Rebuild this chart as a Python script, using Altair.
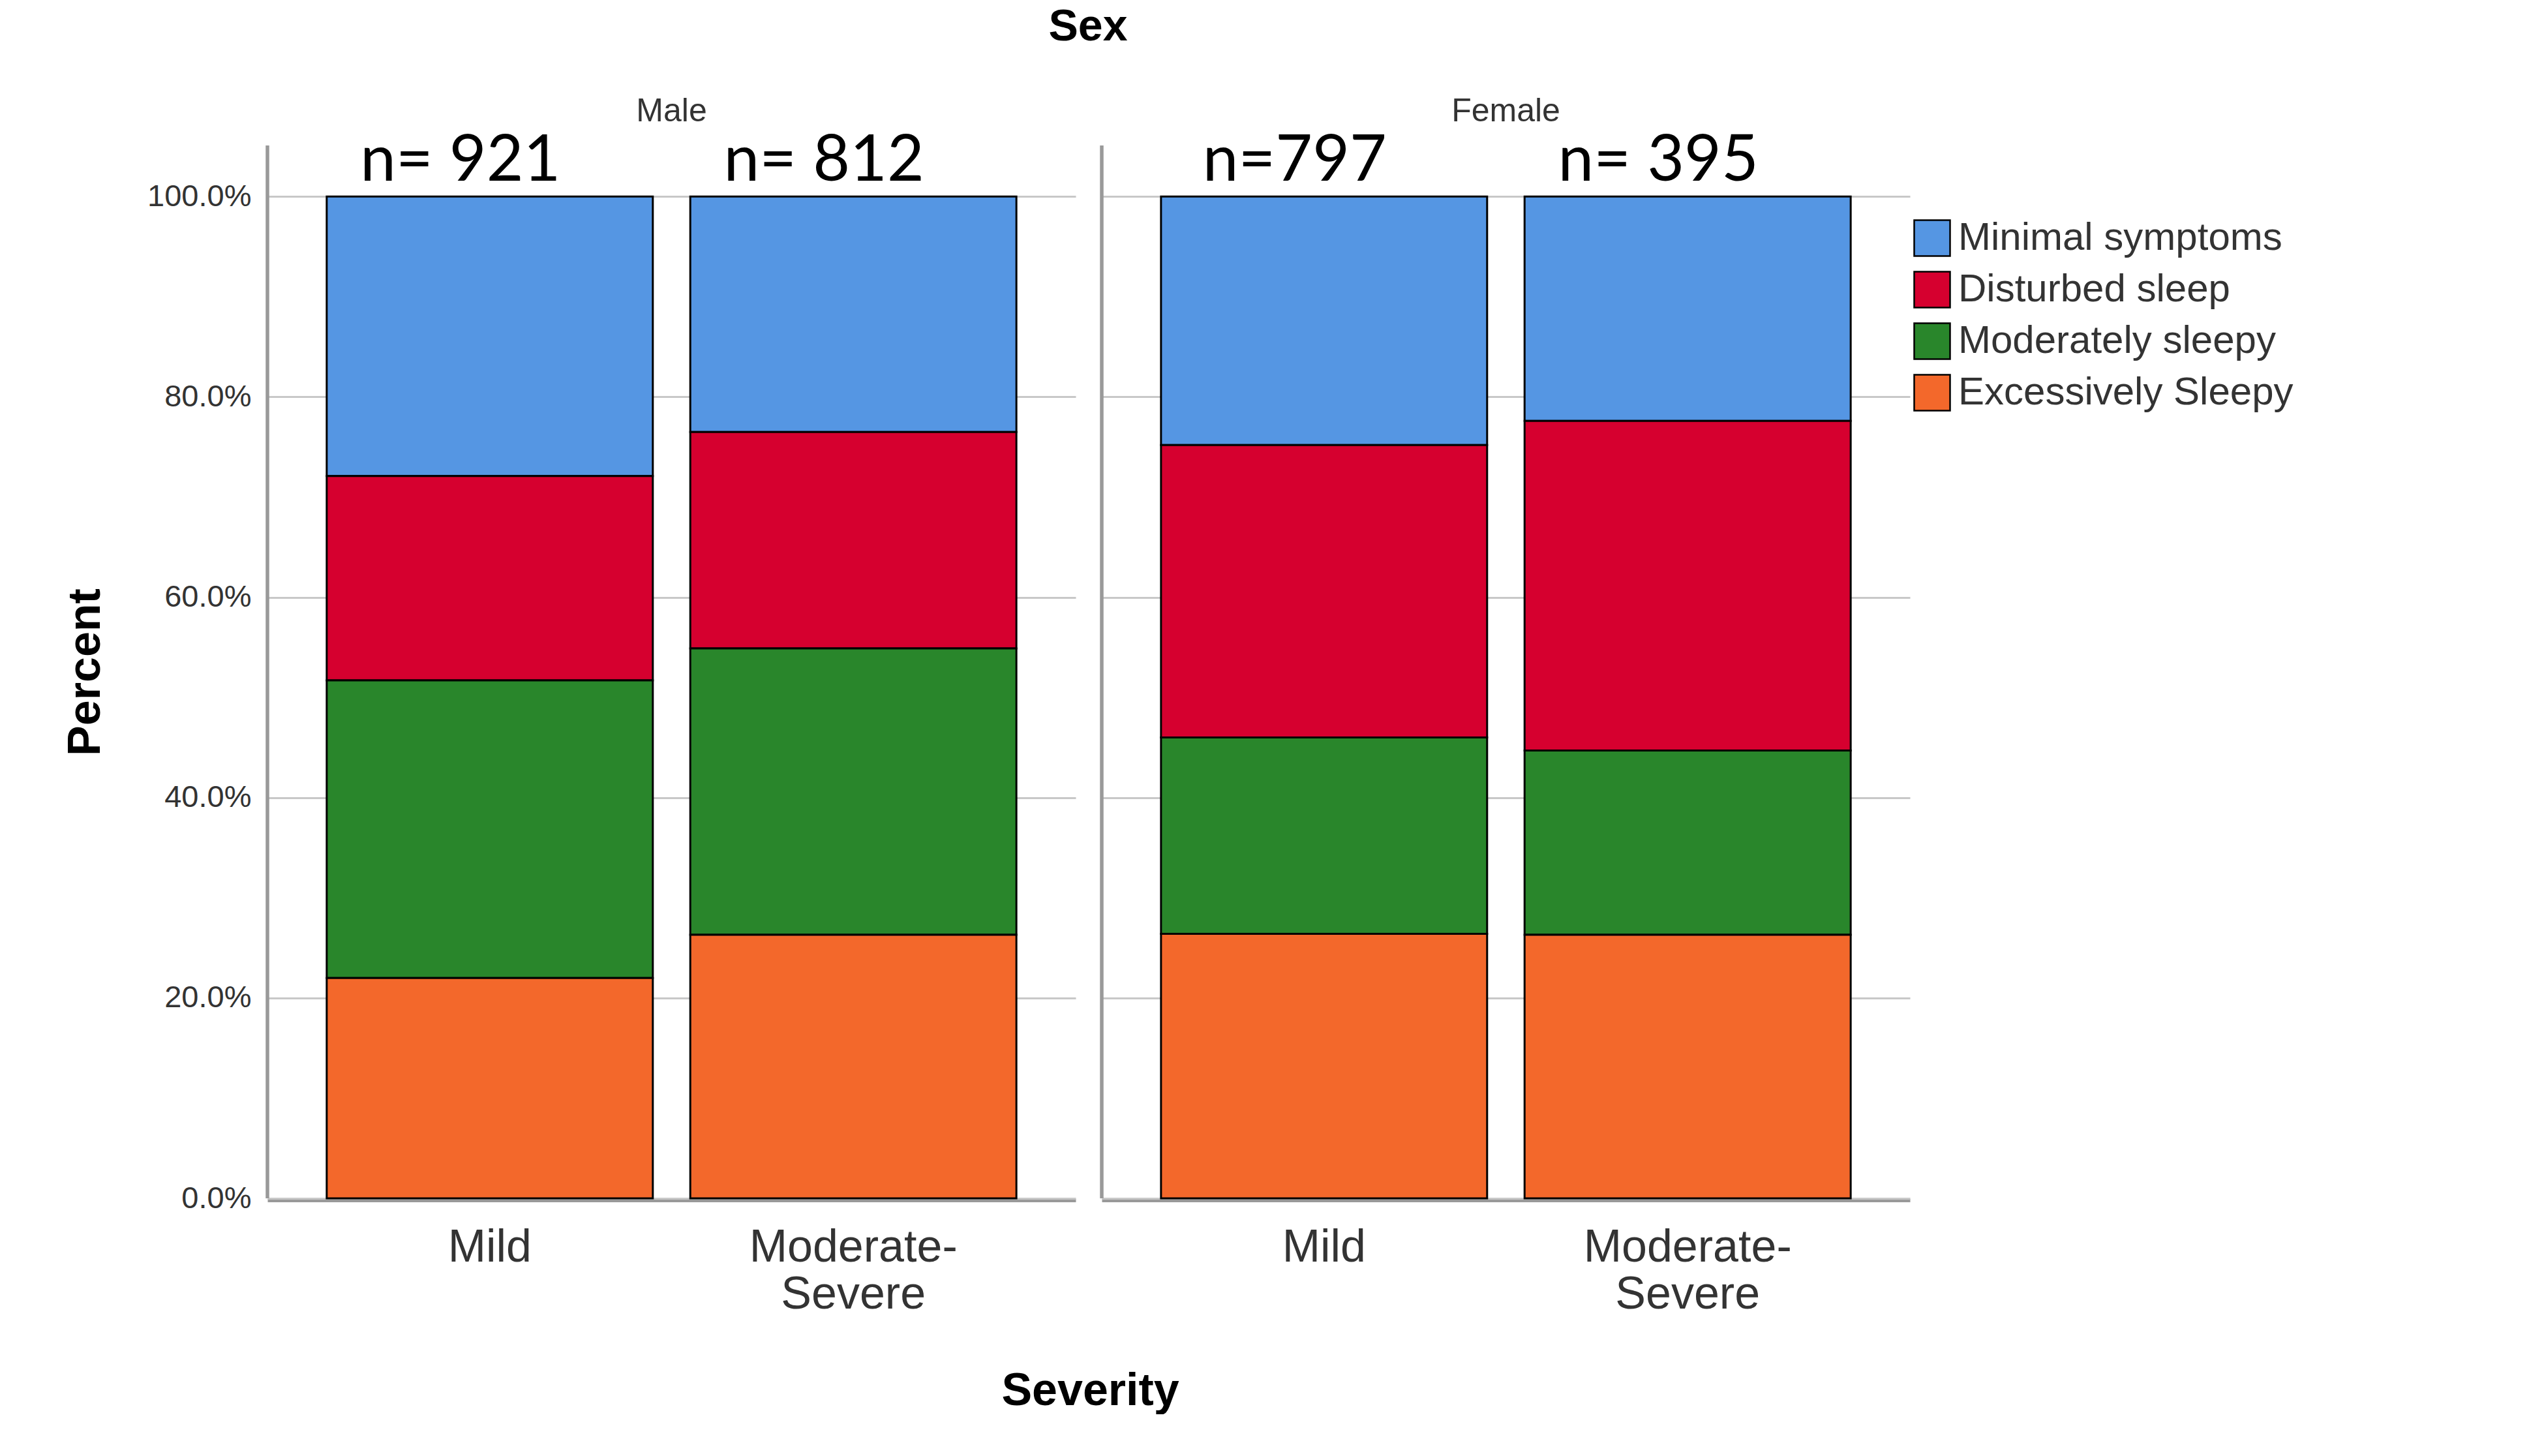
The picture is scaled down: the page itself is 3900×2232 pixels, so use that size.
import altair as alt
import pandas as pd

# ---- data ----
sexes = ["Male", "Male", "Female", "Female"]
severities = ["Mild", "Moderate-Severe", "Mild", "Moderate-Severe"]
n_labels = ["n= 921", "n= 812", "n=797", "n= 395"]

categories = ["Minimal symptoms", "Disturbed sleep", "Moderately sleepy", "Excessively Sleepy"]
minimal = [27.9, 23.5, 24.8, 22.4]
disturbed = [20.4, 21.6, 29.2, 32.9]
moderate = [29.7, 28.6, 19.6, 18.4]
excessive = [22.0, 26.3, 26.4, 26.3]
colors = ["#5596e3", "#d6002f", "#29862b", "#f3682b"]

series = [minimal, disturbed, moderate, excessive]
stack_order = {"Excessively Sleepy": 0, "Moderately sleepy": 1, "Disturbed sleep": 2, "Minimal symptoms": 3}

rows = []
for ci, cat in enumerate(categories):
    for i in range(len(sexes)):
        rows.append({
            "Sex": sexes[i],
            "Severity": severities[i],
            "Category": cat,
            "Percent": series[ci][i],
            "ord": stack_order[cat],
            "nlab": n_labels[i],
            "ypos": 101.6,
        })
df = pd.DataFrame(rows)

W = 1239
H = 1614
YMAX = 105.1
FONT = "Liberation Sans"

x_enc = alt.X(
    "Severity:N",
    sort=["Mild", "Moderate-Severe"],
    scale=alt.Scale(paddingInner=0.103, paddingOuter=0.163),
    title=None,
    axis=alt.Axis(
        labelFontSize=70,
        labelFont=FONT,
        labelColor="#333333",
        labelAngle=0,
        labelPadding=38,
        labelLineHeight=72,
        labelBaseline="top",
        labelLimit=0,
        ticks=False,
        domainColor="#999999",
        domainWidth=5,
        labelExpr="datum.label == 'Moderate-Severe' ? ['Moderate-', 'Severe'] : datum.label",
    ),
)

y_scale = alt.Scale(domain=[0, YMAX], nice=False, zero=True)

bars = alt.Chart().mark_bar(stroke="black", strokeWidth=3).encode(
    x=x_enc,
    y=alt.Y(
        "Percent:Q",
        stack="zero",
        scale=y_scale,
        title="Percent",
        axis=alt.Axis(
            values=[0, 20, 40, 60, 80, 100],
            labelExpr="format(datum.value, '.1f') + '%'",
            labelFontSize=47,
            labelFont=FONT,
            labelColor="#333333",
            labelPadding=22,
            ticks=False,
            domain=False,
            gridColor="#c8c8c8",
            gridWidth=3,
            titleFontSize=70,
            titleFont=FONT,
            titleFontWeight="bold",
            titleColor="black",
            titlePadding=58,
        ),
    ),
    color=alt.Color(
        "Category:N",
        scale=alt.Scale(domain=categories, range=colors),
        legend=alt.Legend(
            title=None,
            orient="none",
            legendX=2522,
            legendY=112,
            symbolType="square",
            symbolSize=3025,
            symbolStrokeColor="black",
            symbolStrokeWidth=2.5,
            symbolOpacity=1,
            labelFontSize=60,
            labelFont=FONT,
            labelColor="#333333",
            labelLimit=0,
            rowPadding=13,
            labelOffset=10,
        ),
    ),
    order=alt.Order("ord:Q", sort="ascending"),
)

texts = alt.Chart().transform_filter(
    alt.datum.Category == "Minimal symptoms"
).mark_text(
    font="Lato", fontSize=98, color="black", baseline="alphabetic", align="center", dx=-45
).encode(
    x=alt.X("Severity:N", sort=["Mild", "Moderate-Severe"]),
    y=alt.Y("ypos:Q", scale=y_scale),
    text="nlab:N",
)

edge = alt.Chart().transform_filter(
    alt.datum.Category == "Minimal symptoms"
).mark_rule(color="#999999", strokeWidth=5).encode(
    x=alt.value(0), y=alt.value(0), y2=alt.value(H)
)

layered = alt.layer(bars, texts, edge, data=df).properties(width=W, height=H)

chart = layered.facet(
    column=alt.Column(
        "Sex:N",
        sort=["Male", "Female"],
        header=alt.Header(
            title="Sex",
            titleFontSize=68,
            titleFont=FONT,
            titleFontWeight="bold",
            titleColor="black",
            titlePadding=60,
            labelFontSize=50,
            labelFont=FONT,
            labelColor="#333333",
            labelPadding=2,
        ),
    ),
    spacing=37,
).properties(
    title=alt.TitleParams(
        text="Severity",
        orient="bottom",
        anchor="start",
        align="center",
        dx=1575,
        fontSize=70,
        font=FONT,
        fontWeight="bold",
        color="black",
        offset=80,
    ),
    padding={"left": 88, "top": 0, "right": 0, "bottom": 0},
).configure_view(stroke=None)

chart.save("out.html", embed_options={"renderer": "svg", "actions": False})
